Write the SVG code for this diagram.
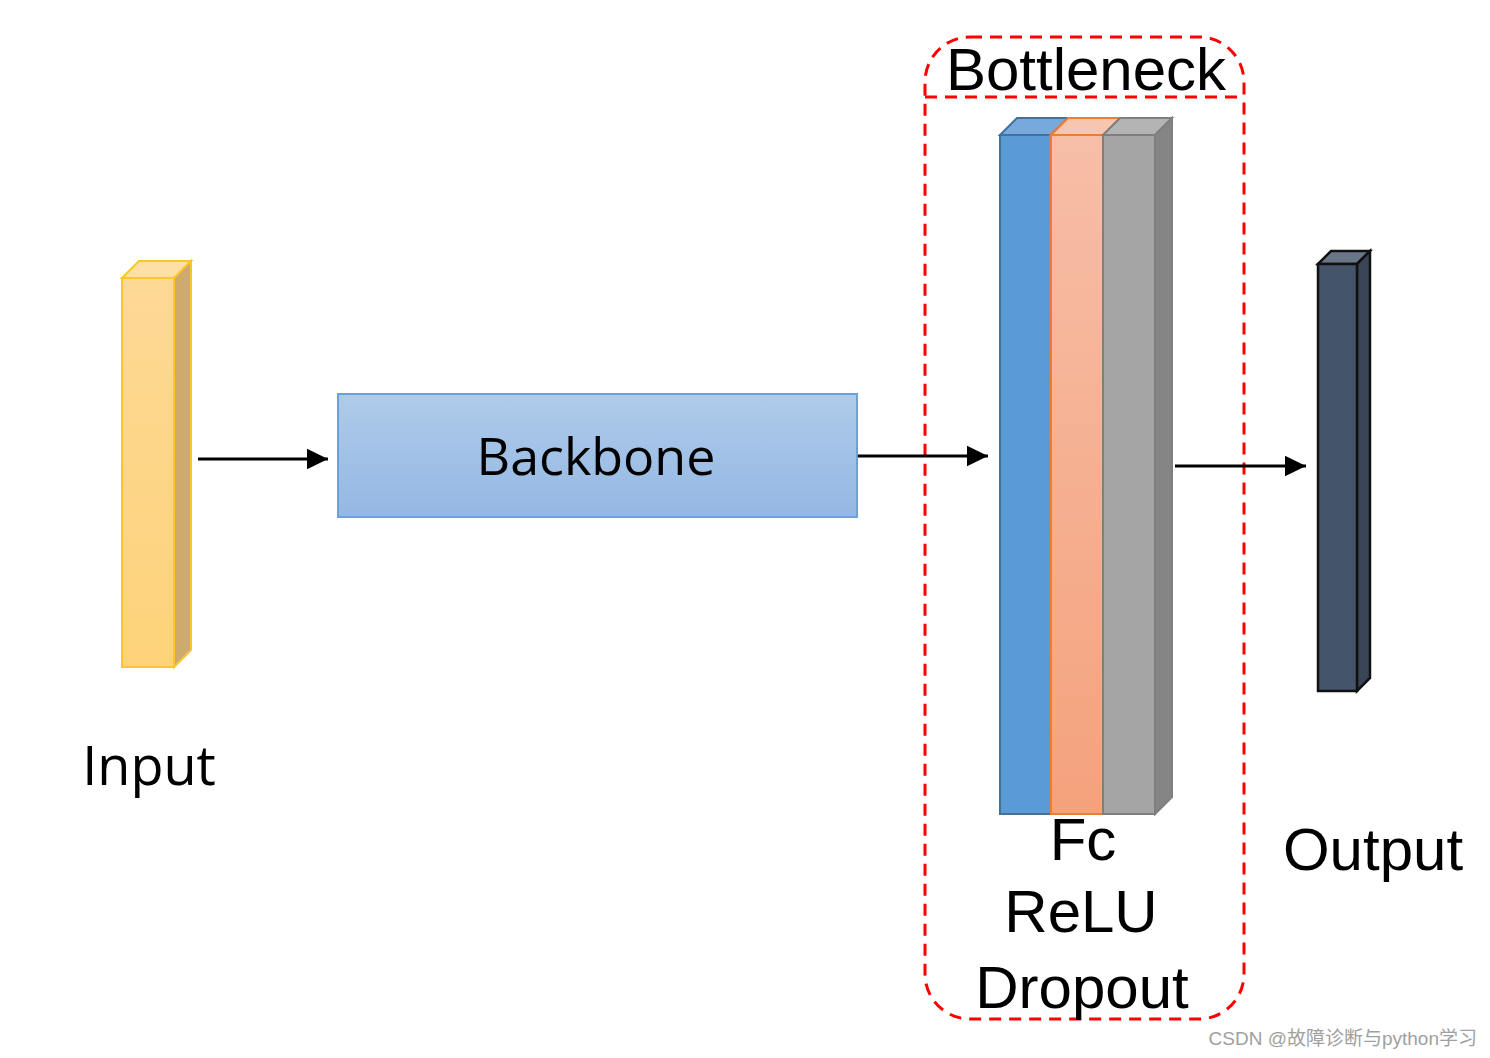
<svg xmlns="http://www.w3.org/2000/svg" width="1490" height="1058" viewBox="0 0 1490 1058">
<defs>
<linearGradient id="gIn" x1="0" y1="0" x2="0" y2="1"><stop offset="0" stop-color="#fed996"/><stop offset="1" stop-color="#fdd279"/></linearGradient>
<linearGradient id="gBb" x1="0" y1="0" x2="0" y2="1"><stop offset="0" stop-color="#afcbea"/><stop offset="1" stop-color="#94b7e3"/></linearGradient>
<linearGradient id="gOr" x1="0" y1="0" x2="0" y2="1"><stop offset="0" stop-color="#f7bea7"/><stop offset="1" stop-color="#f4a27c"/></linearGradient>
<marker id="ah" markerWidth="8" markerHeight="8" refX="7" refY="4" orient="auto" markerUnits="strokeWidth"><path d="M0,0.6 L7,4 L0,7.4 Z" fill="#000"/></marker>
<style>
.lbl{font-family:"Liberation Sans",Arial,sans-serif;font-size:60px;fill:#000;text-anchor:middle}
.cal{font-family:"Open Sans","Noto Sans",sans-serif;fill:#000;text-anchor:middle}
.conn{stroke:#000;stroke-width:3;fill:none;marker-end:url(#ah)}
</style>
</defs>
<rect width="1490" height="1058" fill="#fff"/>

<g id="input">
<polygon points="122,278 139,261 191,261 174,278" fill="#fee0a7" stroke="#fcc52f" stroke-width="2"/>
<polygon points="174,278 191,261 191,650 174,667" fill="#cdab6c" stroke="#fcc52f" stroke-width="2"/>
<rect x="122" y="278" width="52" height="389" fill="url(#gIn)" stroke="#fcc52f" stroke-width="2"/>
<text class="cal" x="149" y="785" font-size="54">Input</text>
</g>

<g id="backbone">
<rect x="338" y="394" width="519" height="123" fill="url(#gBb)" stroke="#6f9fd8" stroke-width="2"/>
<text class="cal" x="596" y="475" font-size="52">Backbone</text>
</g>

<g id="bottleneck">
<rect x="925" y="37" width="319" height="982" rx="45" ry="45" fill="none" stroke="#ff0000" stroke-width="3" stroke-dasharray="12,8"/>
<line x1="925" y1="97" x2="1244" y2="97" stroke="#ff0000" stroke-width="3" stroke-dasharray="12,8"/>
<text class="lbl" x="1086" y="90" font-size="61">Bottleneck</text>
<polygon points="1000,135 1017,118 1068,118 1051,135" fill="#77a9dc" stroke="#41719c" stroke-width="2"/>
<rect x="1000" y="135" width="51" height="679" fill="#5b9bd5" stroke="#41719c" stroke-width="2"/>
<polygon points="1051,135 1068,118 1120,118 1103,135" fill="#f8c6b0" stroke="#ed7d31" stroke-width="2"/>
<rect x="1051" y="135" width="52" height="679" fill="url(#gOr)" stroke="#ed7d31" stroke-width="2"/>
<polygon points="1103,135 1120,118 1172,118 1155,135" fill="#b4b4b4" stroke="#7f7f7f" stroke-width="2"/>
<polygon points="1155,135 1172,118 1172,797 1155,814" fill="#858585" stroke="#7f7f7f" stroke-width="2"/>
<rect x="1103" y="135" width="52" height="679" fill="#a5a5a5" stroke="#7f7f7f" stroke-width="2"/>
<text class="lbl" x="1083" y="860">Fc</text>
<text class="lbl" x="1081" y="932">ReLU</text>
<text class="lbl" x="1082" y="1008">Dropout</text>
</g>

<g id="output">
<polygon points="1318,264 1331,251 1370,251 1357,264" fill="#6a7788" stroke="#111" stroke-width="2.5"/>
<polygon points="1357,264 1370,251 1370,678 1357,691" fill="#3a4658" stroke="#111" stroke-width="2.5"/>
<rect x="1318" y="264" width="39" height="427" fill="#44546a" stroke="#111" stroke-width="2.5"/>
<text class="lbl" x="1373" y="870">Output</text>
</g>

<g id="connectors">
<line class="conn" x1="198" y1="459" x2="328" y2="459"/>
<line class="conn" x1="858" y1="456" x2="988" y2="456"/>
<line class="conn" x1="1175" y1="466" x2="1306" y2="466"/>
</g>

<text x="1477" y="1045" font-family="'Liberation Sans','Noto Sans CJK SC',sans-serif" font-size="19" fill="#a0a0a0" text-anchor="end">CSDN @故障诊断与python学习</text>
</svg>
